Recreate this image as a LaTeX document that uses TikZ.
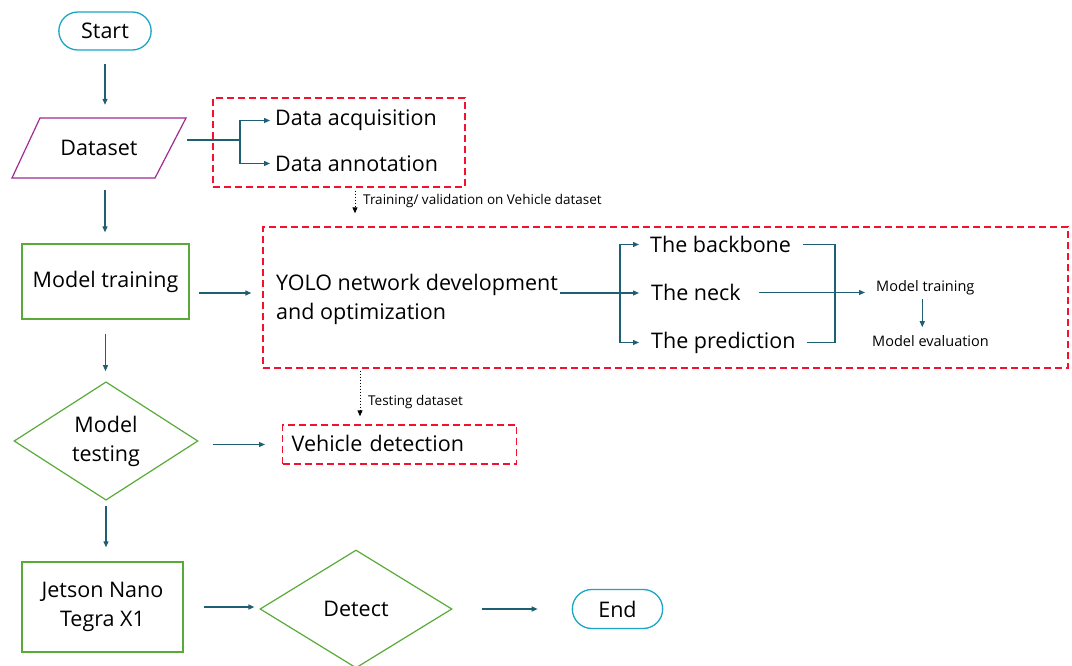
\documentclass[tikz,border=0pt]{standalone}
\usepackage{fontspec}
\setmainfont{Open Sans}
\usetikzlibrary{shapes.geometric,shapes.misc,arrows.meta}
\definecolor{flowteal}{HTML}{1F5F73}
\definecolor{termcyan}{HTML}{1AA6C4}
\definecolor{iopurple}{HTML}{A02B93}
\definecolor{procgreen}{HTML}{5AAA3A}
\definecolor{grpred}{HTML}{F5102E}
\newcommand{\bigtxt}{\fontsize{21.5}{29}\selectfont}
\begin{document}
\begin{tikzpicture}[x=1pt,y=-1pt,
  term/.style = {rounded rectangle,draw=termcyan,line width=1.3pt,minimum width=99pt,minimum height=38pt,font=\bigtxt},
  iobox/.style = {rectangle,minimum width=174pt,minimum height=60pt,font=\bigtxt},
  procbox/.style = {rectangle,draw=procgreen,line width=1.4pt,align=center,font=\bigtxt},
  decide/.style = {diamond,draw=procgreen,line width=1.2pt,inner sep=0pt,align=center,font=\bigtxt},
  grpbox/.style = {rectangle,draw=grpred,line width=1.3pt,dash pattern=on 7pt off 4pt},
  item/.style = {inner sep=0pt,anchor=west,align=left,font=\bigtxt},
  note/.style = {inner sep=0pt,anchor=west,font=\fontsize{13.5}{16}\selectfont},
  flow/.style = {draw=flowteal,line width=1.2pt,-{Triangle[length=6pt,width=5pt]}},
  link/.style = {draw=flowteal,line width=1.2pt},
  dotflow/.style = {draw=black,line width=1pt,dotted,-{Triangle[length=6pt,width=5pt]}}]
\useasboundingbox[fill=white] (0,0) rectangle (1072,666);

% main column
\node[term] (start) at (105,31) {Start};
\draw[iopurple,line width=1.2pt] (12,178) -- (40,118) -- (186,118) -- (155,178) -- cycle;
\node[iobox] (data) at (99,148) {Dataset};
\node[procbox,minimum width=167pt,minimum height=75pt] (train) at (105.5,281.5) {Model training};
\node[decide,minimum width=184pt,minimum height=118pt] (test) at (106,441) {Model\\testing};
\node[procbox,minimum width=161pt,minimum height=90pt] (jet) at (102.5,607) {Jetson Nano\\Tegra X1};
\node[decide,minimum width=192pt,minimum height=118pt] (det) at (356,609) {Detect};
\node[term,minimum width=97pt,minimum height=39pt] (end) at (617.5,609) {End};

% dataset group
\node[grpbox,minimum width=252pt,minimum height=89pt] (grp1) at (339,142.5) {};
\node[item] (acq) at (275,120.5) {Data acquisition};
\node[item] (ann) at (275,163.5) {Data annotation};

% network group
\node[grpbox,minimum width=805pt,minimum height=141pt] (grp2) at (665.5,297.5) {};
\node[item] (yolo) at (276,299) {YOLO network development\\and optimization};
\node[item] (bb) at (650,244.5) {The backbone};
\node[item] (neck) at (651,292.5) {The neck};
\node[item] (pred) at (651,342.5) {The prediction};
\node[note,font=\fontsize{14.5}{17}\selectfont] (mtr) at (876,287.5) {Model training};
\node[note,font=\fontsize{14.5}{17}\selectfont] (mev) at (872,341) {Model evaluation};

% detection group
\node[grpbox,item,text width=216pt,inner sep=9pt,minimum height=39pt] (vd) at (282,444.5) {\raisebox{2pt}{Vehicle detection}};

% side notes
\node[note] (tvlab) at (363,200.5) {Training/ validation on Vehicle dataset};
\node[note] (tslab) at (368,401.5) {Testing dataset};

% junctions
\coordinate (dj) at (240,140);
\coordinate (bj) at (620,293);
\coordinate (cj) at (835,292);
\coordinate (tv) at (355,0);
\coordinate (ts) at (360,0);

% main flow
\draw[flow,shorten <=13pt,shorten >=13pt] (start.south) -- (start.south |- data.north);
\draw[flow,shorten <=12pt,shorten >=11pt] (start.south |- data.south) -- (start.south |- train.north);
\draw[flow,shorten <=14pt,shorten >=10pt] (train.south) -- (train.south |- test.north);
\draw[flow,shorten <=5pt,shorten >=14pt] (test.south) -- (test.south |- jet.north);
\draw[flow,shorten <=20pt,shorten >=5pt] (jet.east) -- (jet.east -| det.west);
\draw[flow,shorten <=29pt,shorten >=34pt] (det.east) -- (det.east -| end.west);
\draw[flow,shorten <=14pt,shorten >=17pt] (test.east |- vd) -- (vd.west);

% dataset branches
\draw[link] (dj) ++(-53,0) -- (dj);
\draw[flow,shorten >=5pt] (dj) |- (acq.west);
\draw[flow,shorten >=5pt] (dj) |- (ann.west);

% network branches
\draw[flow,shorten <=9pt,shorten >=11pt] (train.east |- bj) -- (grp2.west |- bj);
\draw[link] ([xshift=2pt]yolo.east |- bj) -- (bj);
\draw[flow,shorten >=11pt] (bj) |- (bb.west);
\draw[flow,shorten >=12pt] (bj) -- (neck.west |- bj);
\draw[flow,shorten >=12pt] (bj) |- (pred.west);
\draw[link] ([xshift=12pt]bb.east) -| (cj |- pred) -- ([xshift=11pt]pred.east);
\draw[flow,shorten <=18pt,shorten >=11pt] (neck.east) -- (mtr.west |- neck);
\draw[flow,shorten <=4pt,shorten >=8pt] ([xshift=-3pt]mtr.south) -- ([xshift=-3pt]mtr.south |- mev.north);

% dotted hand-overs
\draw[dotflow,shorten <=3pt,shorten >=13pt] (grp1.south -| tv) -- (grp2.north -| tv);
\draw[dotflow,shorten <=2pt,shorten >=8pt] (grp2.south -| ts) -- (vd.north -| ts);
\end{tikzpicture}
\end{document}
